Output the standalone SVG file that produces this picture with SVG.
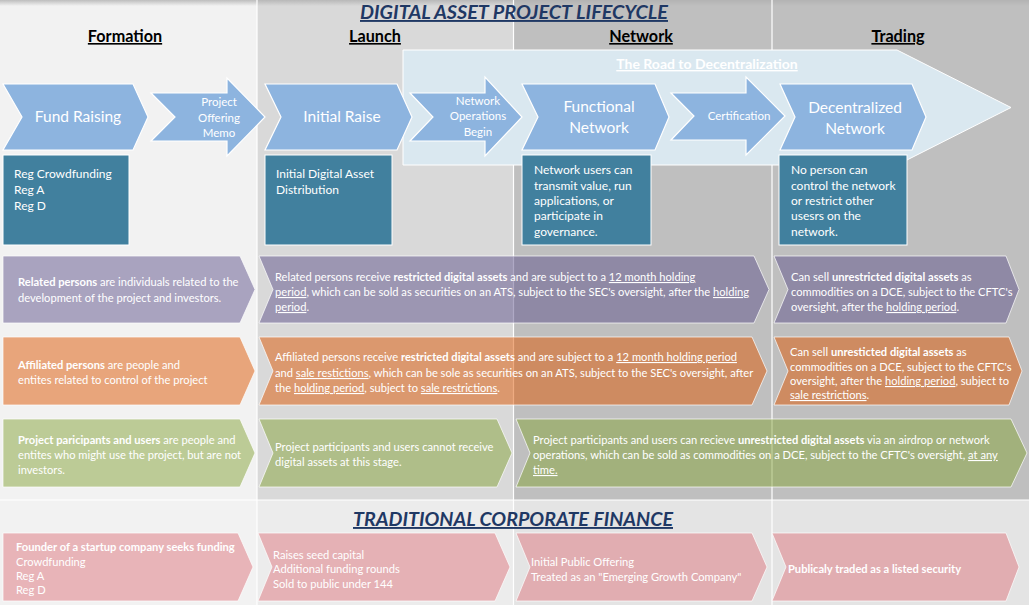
<svg xmlns="http://www.w3.org/2000/svg" width="1029" height="605" viewBox="0 0 1029 605">
<defs>
<linearGradient id="topShade" x1="0" y1="0" x2="0" y2="1">
<stop offset="0" stop-color="#b0b0b0" stop-opacity="0.8"/>
<stop offset="1" stop-color="#b0b0b0" stop-opacity="0"/>
</linearGradient>
</defs>
<style>
.t{font-family:Lato,'Liberation Sans',sans-serif;fill:#ffffff;font-size:11.15px}
.b{font-weight:bold}
.u{text-decoration:underline}
.hdr{font-family:Lato,'Liberation Sans',sans-serif;font-weight:bold;font-size:16.2px;fill:#000;text-decoration:underline;text-anchor:middle}
.ttl{font-family:Lato,'Liberation Sans',sans-serif;font-weight:bold;font-style:italic;font-size:19px;fill:#1f3864;text-decoration:underline;text-anchor:middle}
.blue{fill:#8db4df;stroke:#ffffff;stroke-width:1.2}
.big{font-family:Lato,'Liberation Sans',sans-serif;fill:#fff;font-size:15.5px;text-anchor:middle}
.mid{font-family:Lato,'Liberation Sans',sans-serif;fill:#fff;font-size:11.5px;text-anchor:middle}
.teal{fill:#41809e;stroke:#ffffff;stroke-width:1}
.bt{font-family:Lato,'Liberation Sans',sans-serif;fill:#fff;font-size:12px}
.pur{fill:#60548c;fill-opacity:0.5;stroke:#ffffff;stroke-opacity:0.7;stroke-width:1}
.ora{fill:#de5804;fill-opacity:0.5;stroke:#ffffff;stroke-opacity:0.7;stroke-width:1}
.grn{fill:#86a43a;fill-opacity:0.5;stroke:#ffffff;stroke-opacity:0.7;stroke-width:1}
.pnk{fill:#de767e;fill-opacity:0.5;stroke:#ffffff;stroke-opacity:0.7;stroke-width:1}
.sep{stroke:#ffffff;stroke-width:1.2}
</style>

<g id="background">
<rect x="0" y="0" width="257" height="500" fill="#f2f2f2"/>
<rect x="257" y="0" width="256" height="500" fill="#d9d9d9"/>
<rect x="513" y="0" width="516" height="500" fill="#bfbfbf"/>
<rect x="0" y="500" width="257" height="105" fill="#f2f2f2"/>
<rect x="257" y="500" width="256" height="105" fill="#ececec"/>
<rect x="513" y="500" width="516" height="105" fill="#e4e4e4"/>
<rect x="0" y="0" width="1029" height="6" fill="url(#topShade)"/>
<line class="sep" x1="257" y1="0" x2="257" y2="605"/>
<line class="sep" x1="513.5" y1="0" x2="513.5" y2="605"/>
<line class="sep" x1="772" y1="0" x2="772" y2="605"/>
<line class="sep" x1="0" y1="500" x2="1029" y2="500"/>
</g>

<g id="titles">
<text class="ttl" x="514" y="19" textLength="308" lengthAdjust="spacingAndGlyphs">DIGITAL ASSET PROJECT LIFECYCLE</text>
<text class="hdr" x="125" y="42">Formation</text>
<text class="hdr" x="375" y="42">Launch</text>
<text class="hdr" x="641" y="42">Network</text>
<text class="hdr" x="898" y="42">Trading</text>
</g>

<g id="road">
<path d="M403,50 L897,50 L1011,107.5 L897,165 L403,165 Z" fill="#dae8f0" stroke="#ffffff" stroke-width="1"/>
<text x="707" y="69" text-anchor="middle" font-family="Lato,'Liberation Sans',sans-serif" font-weight="bold" font-size="14" fill="#ffffff" text-decoration="underline">The Road to Decentralization</text>
</g>

<g id="fund-raising">
<path class="blue" d="M3,84 L133,84 L148,117 L133,150 L3,150 L22,117 Z"/>
<text class="big" x="78" y="122">Fund Raising</text>
</g>
<g id="project-offering-memo">
<path class="blue" d="M151,93 L227,93 L227,78 L265,117 L227,156 L227,141 L151,141 L175,117 Z"/>
<text class="mid" x="219" y="106">Project</text>
<text class="mid" x="219" y="122">Offering</text>
<text class="mid" x="219" y="137">Memo</text>
</g>
<g id="initial-raise">
<path class="blue" d="M265,84 L397,84 L412,117 L397,150 L265,150 L281,117 Z"/>
<text class="big" x="342" y="122">Initial Raise</text>
</g>
<g id="network-operations-begin">
<path class="blue" d="M410,93 L485,93 L485,77 L522,117 L485,156 L485,141 L410,141 L433,117 Z"/>
<text class="mid" x="478" y="105">Network</text>
<text class="mid" x="478" y="120">Operations</text>
<text class="mid" x="478" y="136">Begin</text>
</g>
<g id="functional-network">
<path class="blue" d="M522,84 L655,84 L669,117 L655,150 L522,150 L538,117 Z"/>
<text class="big" x="599" y="112">Functional</text>
<text class="big" x="599" y="133">Network</text>
</g>
<g id="certification">
<path class="blue" d="M671,93 L746,93 L746,77 L785,116 L746,155 L746,140 L671,140 L694,116 Z"/>
<text class="mid" x="739" y="120" font-size="10.5">Certification</text>
</g>
<g id="decentralized-network">
<path class="blue" d="M780,84 L912,84 L926,117 L912,150 L780,150 L795,117 Z"/>
<text class="big" x="855" y="113">Decentralized</text>
<text class="big" x="855" y="134">Network</text>
</g>

<g id="box-reg">
<rect class="teal" x="3" y="155" width="126" height="90"/>
<text class="bt" x="14" y="178">Reg Crowdfunding</text>
<text class="bt" x="14" y="194">Reg A</text>
<text class="bt" x="14" y="210">Reg D</text>
</g>
<g id="box-initial-distribution">
<rect class="teal" x="265" y="155" width="127" height="90"/>
<text class="bt" x="276" y="178">Initial Digital Asset</text>
<text class="bt" x="276" y="194">Distribution</text>
</g>
<g id="box-network-users">
<rect class="teal" x="522" y="155" width="129" height="90"/>
<text class="bt" x="534" y="174">Network users can</text>
<text class="bt" x="534" y="190">transmit value, run</text>
<text class="bt" x="534" y="205">applications, or</text>
<text class="bt" x="534" y="220">participate in</text>
<text class="bt" x="534" y="236">governance.</text>
</g>
<g id="box-no-person">
<rect class="teal" x="779" y="155" width="128" height="90"/>
<text class="bt" x="791" y="174">No person can</text>
<text class="bt" x="791" y="190">control the network</text>
<text class="bt" x="791" y="205">or restrict other</text>
<text class="bt" x="791" y="220">usesrs on the</text>
<text class="bt" x="791" y="236">network.</text>
</g>

<g id="related-persons">
<path class="pur" d="M3,256 L240,256 L255,289.5 L240,323 L3,323 Z"/>
<text class="t" x="18" y="286"><tspan class="b">Related persons</tspan> are individuals related to the</text>
<text class="t" x="18" y="302">development of the project and investors.</text>
</g>
<g id="related-launch">
<path class="pur" d="M259,256 L754,256 L769,289.5 L754,323 L259,323 L273,289.5 Z"/>
<text class="t" x="275" y="281">Related persons receive <tspan class="b">restricted digital assets</tspan> and are subject to a <tspan class="u">12 month holding</tspan></text>
<text class="t" x="275" y="296"><tspan class="u">period</tspan>, which can be sold as securities on an ATS, subject to the SEC's oversight, after the <tspan class="u">holding</tspan></text>
<text class="t" x="275" y="311"><tspan class="u">period</tspan>.</text>
</g>
<g id="related-trading">
<path class="pur" d="M774,256 L1006,256 L1019,289.5 L1006,323 L774,323 L788,289.5 Z"/>
<text class="t" x="791" y="281">Can sell <tspan class="b">unrestricted digital assets</tspan> as</text>
<text class="t" x="791" y="296">commodities on a DCE, subject to the CFTC's</text>
<text class="t" x="791" y="311">oversight, after the <tspan class="u">holding period</tspan>.</text>
</g>

<g id="affiliated-persons">
<path class="ora" d="M3,337 L240,337 L255,371 L240,405 L3,405 Z"/>
<text class="t" x="18" y="369"><tspan class="b">Affiliated persons</tspan> are people and</text>
<text class="t" x="18" y="384">entites related to control of the project</text>
</g>
<g id="affiliated-launch">
<path class="ora" d="M259,337 L752,337 L767,371 L752,405 L259,405 L273,371 Z"/>
<text class="t" x="275" y="361">Affiliated persons receive <tspan class="b">restricted digital assets</tspan> and are subject to a <tspan class="u">12 month holding period</tspan></text>
<text class="t" x="275" y="377">and <tspan class="u">sale restictions</tspan>, which can be sole as securities on an ATS, subject to the SEC's oversight, after</text>
<text class="t" x="275" y="392">the <tspan class="u">holding period</tspan>, subject to <tspan class="u">sale restrictions</tspan>.</text>
</g>
<g id="affiliated-trading">
<path class="ora" d="M774,337 L1009,337 L1022,371 L1009,405 L774,405 L788,371 Z"/>
<text class="t" x="790" y="356">Can sell <tspan class="b">unresticted digital assets</tspan> as</text>
<text class="t" x="790" y="371">commodities on a DCE, subject to the CFTC's</text>
<text class="t" x="790" y="385">oversight, after the <tspan class="u">holding period</tspan>, subject to</text>
<text class="t" x="790" y="399"><tspan class="u">sale restrictions</tspan>.</text>
</g>

<g id="project-participants">
<path class="grn" d="M3,419 L240,419 L255,453 L240,487 L3,487 Z"/>
<text class="t" x="18" y="444"><tspan class="b">Project paricipants and users</tspan> are people and</text>
<text class="t" x="18" y="459">entites who might use the project, but are not</text>
<text class="t" x="18" y="474">investors.</text>
</g>
<g id="participants-launch">
<path class="grn" d="M259,419 L497,419 L512,453 L497,487 L259,487 L273,453 Z"/>
<text class="t" x="275" y="451">Project participants and users cannot receive</text>
<text class="t" x="275" y="466">digital assets at this stage.</text>
</g>
<g id="participants-network">
<path class="grn" d="M516,419 L1011,419 L1027,453 L1011,487 L516,487 L530,453 Z"/>
<text class="t" x="533" y="444">Project participants and users can recieve <tspan class="b">unrestricted digital assets</tspan> via an airdrop or network</text>
<text class="t" x="533" y="459">operations, which can be sold as commodities on a DCE, subject to the CFTC's oversight, <tspan class="u">at any</tspan></text>
<text class="t" x="533" y="474"><tspan class="u">time.</tspan></text>
</g>

<g id="traditional-title">
<text class="ttl" x="513" y="526" textLength="320" lengthAdjust="spacingAndGlyphs">TRADITIONAL CORPORATE FINANCE</text>
</g>

<g id="founder">
<path class="pnk" d="M3,533 L238,533 L253,567 L238,601 L3,601 Z"/>
<text class="t" x="16" y="551"><tspan class="b">Founder of a startup company seeks funding</tspan></text>
<text class="t" x="16" y="566">Crowdfunding</text>
<text class="t" x="16" y="580">Reg A</text>
<text class="t" x="16" y="594">Reg D</text>
</g>
<g id="seed-capital">
<path class="pnk" d="M258,533 L495,533 L510,567 L495,601 L258,601 L272,567 Z"/>
<text class="t" x="273" y="559">Raises seed capital</text>
<text class="t" x="273" y="573">Additional funding rounds</text>
<text class="t" x="273" y="588">Sold to public under 144</text>
</g>
<g id="ipo">
<path class="pnk" d="M516,533 L752,533 L767,567 L752,601 L516,601 L530,567 Z"/>
<text class="t" x="531" y="566">Initial Public Offering</text>
<text class="t" x="531" y="581">Treated as an "Emerging Growth Company"</text>
</g>
<g id="publicly-traded">
<path class="pnk" d="M772,533 L1006,533 L1019,567 L1006,601 L772,601 L786,567 Z"/>
<text class="t" x="788" y="573"><tspan class="b">Publicaly traded as a listed security</tspan></text>
</g>

<g id="connectors"/>
</svg>
